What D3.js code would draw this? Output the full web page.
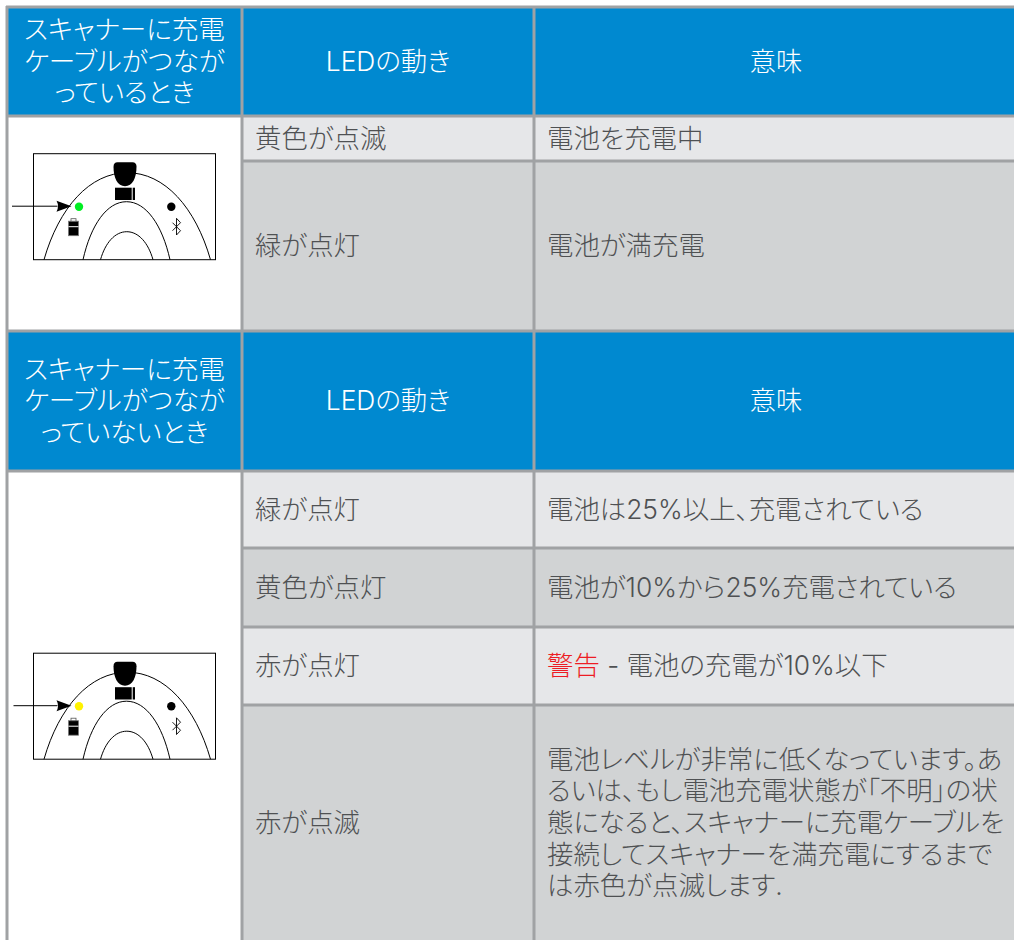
<!DOCTYPE html>
<html>
<head>
<meta charset="utf-8">
<script src="https://cdnjs.cloudflare.com/ajax/libs/d3/7.8.5/d3.min.js"></script>
<style>
html, body { margin: 0; padding: 0; background: #fff; overflow: hidden; }
text { font-family: Inter, "Noto Sans CJK JP", sans-serif; font-feature-settings: "palt"; font-weight: 300; }
</style>
</head>
<body>
<script>
// table content
var headerFirst = [
	['スキャナーに充電', 'ケーブルがつなが', 'っているとき'],
	['スキャナーに充電', 'ケーブルがつなが', 'っていないとき']
];
var headerLed = 'LEDの動き';
var headerMeaning = '意味';

var ledLabels = ['黄色が点滅', '緑が点灯', '緑が点灯', '黄色が点灯', '赤が点灯', '赤が点滅'];
var meanings = [
	['電池を充電中'],
	['電池が満充電'],
	['電池は25%以上、充電されている'],
	['電池が10%から25%充電されている'],
	['- 電池の充電が10%以下'],
	['電池レベルが非常に低くなっています。あ', 'るいは、もし電池充電状態が「不明」の状', '態になると、スキャナーに充電ケーブルを', '接続してスキャナーを満充電にするまで', 'は赤色が点滅します.']
];
var warningWord = '警告';
var warningRow = 4;
var ledColors = ['#00ee22', '#fff200'];

// layout
var width = 1014, height = 940;
var colEdges = [7, 242, 534, 1014];
var headerEdges = [[7, 116], [331, 471]];
var rowEdges = [[116, 161], [161, 331], [471, 548], [548, 627], [627, 705], [705, 960]];
var rowShades = ['#e6e7e9', '#d1d3d4', '#e6e7e9', '#d1d3d4', '#e6e7e9', '#d1d3d4'];
var headerBlue = '#0089d0', gridGrey = '#a0a2a4', textGrey = '#4f5153';
var fullLines = [7, 116, 331, 471];
var partLines = [161, 548, 627, 705];

var svg = d3.select('body').append('svg')
	.attr('width', width)
	.attr('height', height)
	.style('display', 'block');

// blue header bands
headerEdges.forEach(function(edge, i) {
	svg.append('rect')
		.attr('x', colEdges[0]).attr('y', edge[0])
		.attr('width', width - colEdges[0]).attr('height', edge[1] - edge[0])
		.attr('fill', headerBlue);

	var cx = 124.5;
	var mid = (edge[0] + edge[1]) / 2;
	svg.append('g').selectAll('text')
		.data(headerFirst[i])
		.enter()
		.append('text')
			.attr('x', cx)
			.attr('y', function(d, j) { return mid + (j - 1) * 31.5 + 9; })
			.attr('text-anchor', 'middle')
			.attr('font-size', 26.6)
			.attr('fill', '#fff')
			.text(function(d) { return d; });

	svg.append('text')
		.attr('x', 388).attr('y', mid + 9)
		.attr('text-anchor', 'middle').attr('font-size', 26.4).attr('fill', '#fff')
		.text(headerLed);
	svg.append('text')
		.attr('x', 776).attr('y', mid + 9)
		.attr('text-anchor', 'middle').attr('font-size', 26.4).attr('fill', '#fff')
		.text(headerMeaning);
});

// shaded body rows
svg.selectAll('.row')
	.data(rowEdges)
	.enter()
	.append('rect')
		.attr('class', 'row')
		.attr('x', colEdges[1])
		.attr('y', function(d) { return d[0]; })
		.attr('width', width - colEdges[1])
		.attr('height', function(d) { return d[1] - d[0]; })
		.attr('fill', function(d, i) { return rowShades[i]; });

// row text
rowEdges.forEach(function(edge, i) {
	var mid = (edge[0] + edge[1]) / 2;
	if (i === 5) mid = 823;
	svg.append('text')
		.attr('x', 255).attr('y', mid + 9)
		.attr('font-size', 26.4).attr('fill', textGrey)
		.text(ledLabels[i]);

	var lines = meanings[i];
	var t = svg.append('g').selectAll('text')
		.data(lines)
		.enter()
		.append('text')
			.attr('x', 547)
			.attr('y', function(d, j) { return mid + 9 + (j - (lines.length - 1) / 2) * 31.7; })
			.attr('font-size', 26.4)
			.attr('fill', textGrey);
	if (i === warningRow) {
		t.append('tspan').attr('fill', '#ed1c24').text(warningWord + '  ');
		t.append('tspan').text(function(d) { return d; });
	} else {
		t.text(function(d) { return d; });
	}
});

// grid lines
var grid = svg.append('g')
	.attr('stroke', gridGrey)
	.attr('stroke-width', 3);
grid.selectAll('.h')
	.data(fullLines.concat(partLines))
	.enter()
	.append('line')
		.attr('x1', function(d) { return partLines.indexOf(d) >= 0 ? colEdges[1] : colEdges[0] - 1; })
		.attr('x2', width)
		.attr('y1', function(d) { return d; })
		.attr('y2', function(d) { return d; });
grid.selectAll('.v')
	.data(colEdges.slice(0, 3))
	.enter()
	.append('line')
		.attr('x1', function(d) { return d; })
		.attr('x2', function(d) { return d; })
		.attr('y1', 6)
		.attr('y2', height);

// scanner diagram, local coords: box is 182 x 106
function drawScanner(top, led, arrowStart) {
	var g = svg.append('g').attr('transform', 'translate(33.5,' + top + ')');
	g.append('rect')
		.attr('width', 182).attr('height', 106)
		.attr('fill', '#fff').attr('stroke', '#000').attr('stroke-width', 1);

	// arches
	[[10.5, 177, 87], [49.5, 136.5, 58], [67, 119.5, 28]].forEach(function(a) {
		var rx = (a[1] - a[0]) / 2;
		g.append('path')
			.attr('d', 'M' + a[0] + ',106 C' + (a[0] + rx * 0.18) + ',' + (106 - a[2] * 0.6) + ' ' + (a[0] + rx * 0.55) + ',' + (106 - a[2]) + ' ' + (a[0] + rx) + ',' + (106 - a[2]) +
				' C' + (a[1] - rx * 0.55) + ',' + (106 - a[2]) + ' ' + (a[1] - rx * 0.18) + ',' + (106 - a[2] * 0.6) + ' ' + a[1] + ',106')
			.attr('fill', 'none').attr('stroke', '#000').attr('stroke-width', 1);
	});

	// clip shape and window
	g.append('path')
		.attr('d', 'M84,8.5 Q80,8.5 80,13 C80,24 84,32.5 91.5,32.5 C99,32.5 103,24 103,13 Q103,8.5 99,8.5 Z')
		.attr('fill', '#000');
	g.append('rect').attr('x', 81.5).attr('y', 34).attr('width', 16.7).attr('height', 12.3).attr('fill', '#000');
	g.append('rect').attr('x', 99.2).attr('y', 34).attr('width', 2.3).attr('height', 12.3).attr('fill', '#000');

	// LEDs
	g.append('circle').attr('cx', 45.5).attr('cy', 53).attr('r', 4.2).attr('fill', led);
	g.append('circle').attr('cx', 137.8).attr('cy', 53).attr('r', 4.2).attr('fill', '#000');

	// battery
	g.append('rect').attr('x', 35).attr('y', 67.5).attr('width', 10).attr('height', 14.5).attr('fill', '#000').attr('stroke', '#777').attr('stroke-width', 0.8);
	g.append('rect').attr('x', 37.5).attr('y', 65).attr('width', 5).attr('height', 2.5).attr('fill', '#fff').attr('stroke', '#555').attr('stroke-width', 0.8);
	g.append('line').attr('x1', 35).attr('x2', 45).attr('y1', 73).attr('y2', 73).attr('stroke', '#fff').attr('stroke-width', 1);

	// bluetooth mark
	g.append('path')
		.attr('d', 'M139,69 L147,77 L143,81.3 L143,64.6 L147,69 L139,77')
		.attr('fill', 'none').attr('stroke', '#000').attr('stroke-width', 0.9);

	// arrow
	g.append('line')
		.attr('x1', arrowStart - 33.5).attr('x2', 24).attr('y1', 52.5).attr('y2', 52.5)
		.attr('stroke', '#000').attr('stroke-width', 1);
	g.append('path').attr('d', 'M23,47 L38,52.5 L23,58 Q26,52.5 23,47 Z').attr('fill', '#000');
}

drawScanner(153.7, ledColors[0], 12);
drawScanner(653.2, ledColors[1], 13.5);
</script>
</body>
</html>
